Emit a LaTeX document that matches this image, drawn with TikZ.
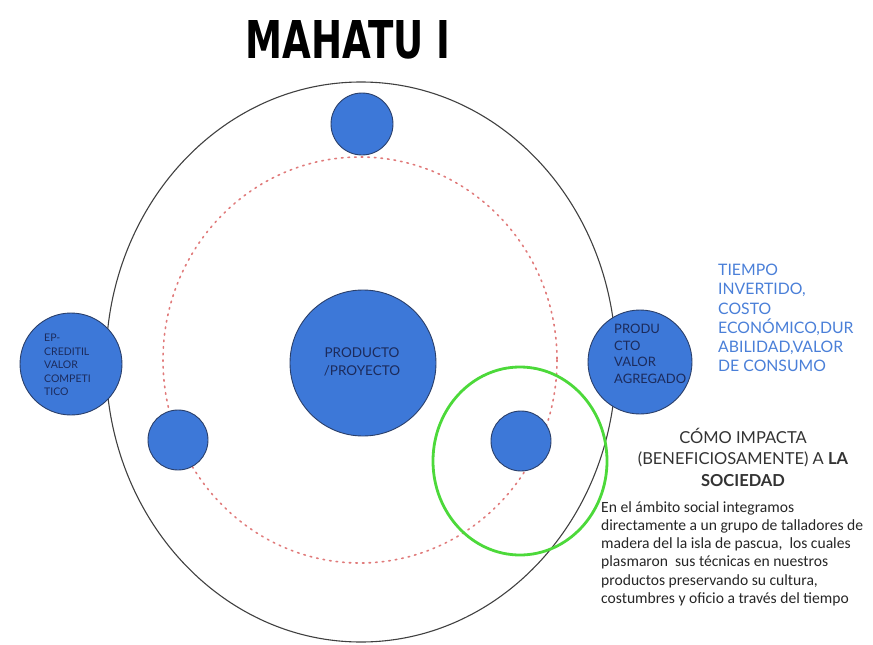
\documentclass[tikz,border=0pt]{standalone}
\usepackage{fontspec}
\usepackage{graphicx}
\setmainfont{Lato}
\newfontfamily\bodyfont{Carlito}
\newfontfamily\titlefont{DejaVu Sans}
\definecolor{cblue}{HTML}{3D78D8}
\definecolor{cedge}{HTML}{2A3F6A}
\definecolor{ctext}{HTML}{1C2B5C}
\definecolor{dotred}{HTML}{E07A7A}
\definecolor{lblue}{HTML}{4A7FD8}
\definecolor{cgreen}{HTML}{4CD93A}
\begin{document}
\begin{tikzpicture}[x=1pt,y=-1pt,
  planet/.style={circle,fill=cblue,draw=cedge,line width=0.9pt,inner sep=0pt},
  intext/.style={text=ctext,align=left,inner sep=0pt},
]
\useasboundingbox (0,0) rectangle (873,645);
% orbits
\draw[draw=black!75,line width=1.1pt] (361,362) ellipse [x radius=255, y radius=280];
\draw[dotred,line width=1.6pt,dash pattern=on 1.6pt off 5pt,line cap=round] (360,360) ellipse [x radius=197, y radius=203];
% title
\node (title) at (348,40) {\resizebox{205pt}{38pt}{\titlefont\bfseries MAHATU I}};
% planets
\node[planet,minimum size=62pt] (top) at (362,124) {};
\node[planet,minimum size=146pt] (center) at (363,363) {};
\node[planet,minimum size=102pt] (left) at (71,364) {};
\node[planet,minimum size=104pt] (right) at (640,362) {};
\node[planet,minimum size=60pt] (sl) at (178,440) {};
\node[planet,minimum size=60pt] (sr) at (521,441) {};
% green highlight
\draw[cgreen,line width=2.8pt] (520,461) ellipse [x radius=87, y radius=94];
% circle texts
\node[intext,align=center,font=\fontsize{13.5}{18}\selectfont] (ctxt) at (362,362) {PRODUCTO\\/PROYECTO};
\node[intext,anchor=west,font=\fontsize{13}{16.5}\selectfont] (rtxt) at (614,354) {PRODU\\CTO\\VALOR\\AGREGADO};
\node[intext,anchor=west,font=\fontsize{10.5}{13.5}\selectfont] (ltxt) at (44,365) {EP-\\CREDITIL\\VALOR\\COMPETI\\TICO};
% right blue text
\node[anchor=north west,inner sep=0pt,text=lblue,align=left,font=\fontsize{15.8}{19.2}\selectfont] (rblue) at (718,264) {TIEMPO\\INVERTIDO,\\COSTO\\ECONÓMICO,DUR\\ABILIDAD,VALOR\\DE CONSUMO};
% heading
\node[inner sep=0pt,text=black!80,align=center,font=\fontsize{16.5}{21.5}\selectfont] (head) at (743,457) {CÓMO IMPACTA\\(BENEFICIOSAMENTE) A \textbf{LA}\\\textbf{SOCIEDAD}};
% paragraph
\node[anchor=north west,inner sep=0pt,text=black!85,align=left,font=\bodyfont\fontsize{15.6}{18.3}\selectfont] (para) at (601,501) {En el ámbito social integramos\\directamente a un grupo de talladores de\\madera del la isla de pascua,\ \ los cuales\\plasmaron\ \ sus técnicas en nuestros\\productos preservando su cultura,\\costumbres y oficio a través del tiempo};
\end{tikzpicture}
\end{document}
